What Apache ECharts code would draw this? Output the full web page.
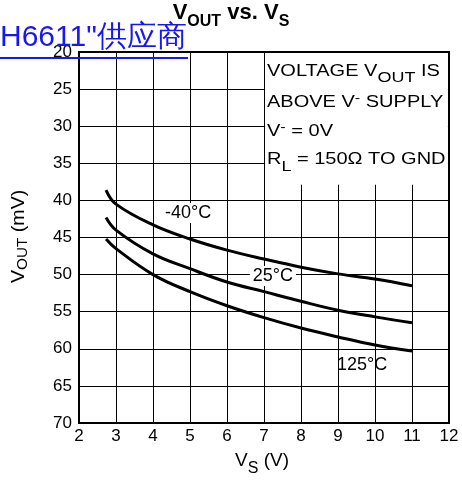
<!DOCTYPE html>
<html><head><meta charset="utf-8">
<script src="https://cdn.jsdelivr.net/npm/echarts@6/dist/echarts.min.js"></script>
<style>html,body{margin:0;padding:0;background:#fff}#c{width:462px;height:490px}</style>
</head><body><div id="c"></div>
<script>
// Data
const vs = [2.73, 3, 4, 5, 6, 7, 8, 9, 10, 11];
const voutM40 = [38.6, 40.5, 43.3, 45.2, 46.7, 47.9, 49.0, 49.9, 50.6, 51.5];
const vout25 = [42.3, 44.0, 47.2, 49.2, 51.0, 52.3, 53.6, 54.8, 55.7, 56.5];
const vout125 = [45.2, 46.5, 50.0, 52.3, 54.2, 55.8, 57.2, 58.4, 59.5, 60.3];
const seriesNames = ['-40°C', '25°C', '125°C'];
const labelAt = [[4.95, 41.7], [7.24, 50.2], [9.65, 62.2]];
const xTicks = [2, 3, 4, 5, 6, 7, 8, 9, 10, 11, 12];
const yTicks = [20, 25, 30, 35, 40, 45, 50, 55, 60, 65, 70];

const FONT = '"Liberation Sans", Arial, sans-serif';
const ctx = document.createElement('canvas').getContext('2d');
function tw(t, s, b) { ctx.font = (b ? 'bold ' : '') + s + 'px ' + FONT; return ctx.measureText(t).width; }
// multi-part text line (for subscripts/superscripts); parts: [text, size, dy]
function textLine(x, baseY, parts, o) {
  o = o || {};
  let cx = 0;
  const children = parts.map(p => {
    const el = { type: 'text', x: cx, y: p[2] - 0.35 * p[1], z: 40, style: {
      text: p[0], fontFamily: FONT, fontSize: p[1], fontWeight: o.bold ? 'bold' : 'normal',
      fill: o.color || '#000', align: 'left', verticalAlign: 'middle' } };
    cx += tw(p[0], p[1], o.bold);
    return el;
  });
  const sx = o.scaleX || 1;
  if (o.center) x = x - cx * sx / 2;
  return { type: 'group', x: x, y: baseY, rotation: o.rotation || 0, scaleX: sx, scaleY: o.scaleY || 1, z: 40, children: children };
}

const chart = echarts.init(document.getElementById('c'));
const values = [voutM40, vout25, vout125];
const series = values.map((v, i) => ({
  type: 'line', name: seriesNames[i], smooth: 0.4, symbol: 'none',
  data: vs.map((x, j) => [x, v[j]]),
  lineStyle: { color: '#000', width: 3 }, z: 5,
  markPoint: {
    symbol: 'rect', symbolSize: 0, silent: true,
    data: [{ coord: labelAt[i] }],
    label: {
      show: true, formatter: seriesNames[i], color: '#000', fontFamily: FONT, fontSize: 18,
      backgroundColor: i === 2 ? 'transparent' : '#fff', padding: [1, 3, 1, 3], position: 'inside'
    }
  }
}));
// white note box
series.push({
  type: 'line', data: [], silent: true, z: 3,
  markArea: {
    silent: true,
    itemStyle: { color: '#fff', opacity: 1 },
    data: [[{ coord: [7.03, 20.15] }, { coord: [11.97, 37.9] }]]
  }
});
chart.setOption({
  animation: false,
  grid: { left: 79, right: 13, top: 52, bottom: 67, show: true, borderColor: '#000', borderWidth: 2 },
  xAxis: {
    type: 'value', min: xTicks[0], max: xTicks[xTicks.length - 1], interval: 1,
    axisLine: { show: true, lineStyle: { color: '#000', width: 2 } },
    axisTick: { show: false },
    axisLabel: { color: '#000', fontFamily: FONT, fontSize: 17, margin: 5 },
    splitLine: { show: true, lineStyle: { color: '#000', width: 1 } }
  },
  yAxis: {
    type: 'value', inverse: true, min: yTicks[0], max: yTicks[yTicks.length - 1], interval: 5,
    axisLine: { show: true, lineStyle: { color: '#000', width: 2 } },
    axisTick: { show: false },
    axisLabel: { color: '#000', fontFamily: FONT, fontSize: 17, margin: 7 },
    splitLine: { show: true, lineStyle: { color: '#000', width: 1 } }
  },
  series: series,
  graphic: [
    textLine(231, 21, [['V', 22, 0], ['OUT', 16, 6], [' vs. V', 22, 0], ['S', 16, 6]], { bold: true, center: true }),
    { type: 'text', left: 0, top: 23, z: 50, style: { text: 'H6611"供应商', fontFamily: FONT, fontSize: 30, fill: '#1717f2' } },
    { type: 'rect', shape: { x: 0, y: 57, width: 188, height: 2 }, z: 50, style: { fill: '#1717f2' } },
    textLine(267, 77, [['VOLTAGE V', 16, 0], ['OUT', 14.4, 6], [' IS', 16, 0]], { scaleX: 1.25 }),
    textLine(267, 108, [['ABOVE V', 16, 0], ['-', 13, -5], [' SUPPLY', 16, 0]], { scaleX: 1.25 }),
    textLine(267, 137, [['V', 16, 0], ['-', 13, -5], [' = 0V', 16, 0]], { scaleX: 1.25 }),
    textLine(267, 165, [['R', 16, 0], ['L', 14.4, 7], [' = 150Ω TO GND', 16, 0]], { scaleX: 1.25 }),
    textLine(262, 467, [['V', 19, 0], ['S', 16, 7], [' (V)', 19, 0]], { center: true }),
    textLine(25, 283, [['V', 18, 0], ['OUT', 14, 3], [' (mV)', 18, 0]], { rotation: Math.PI / 2, scaleX: 1.09 })
  ]
});
</script></body></html>
